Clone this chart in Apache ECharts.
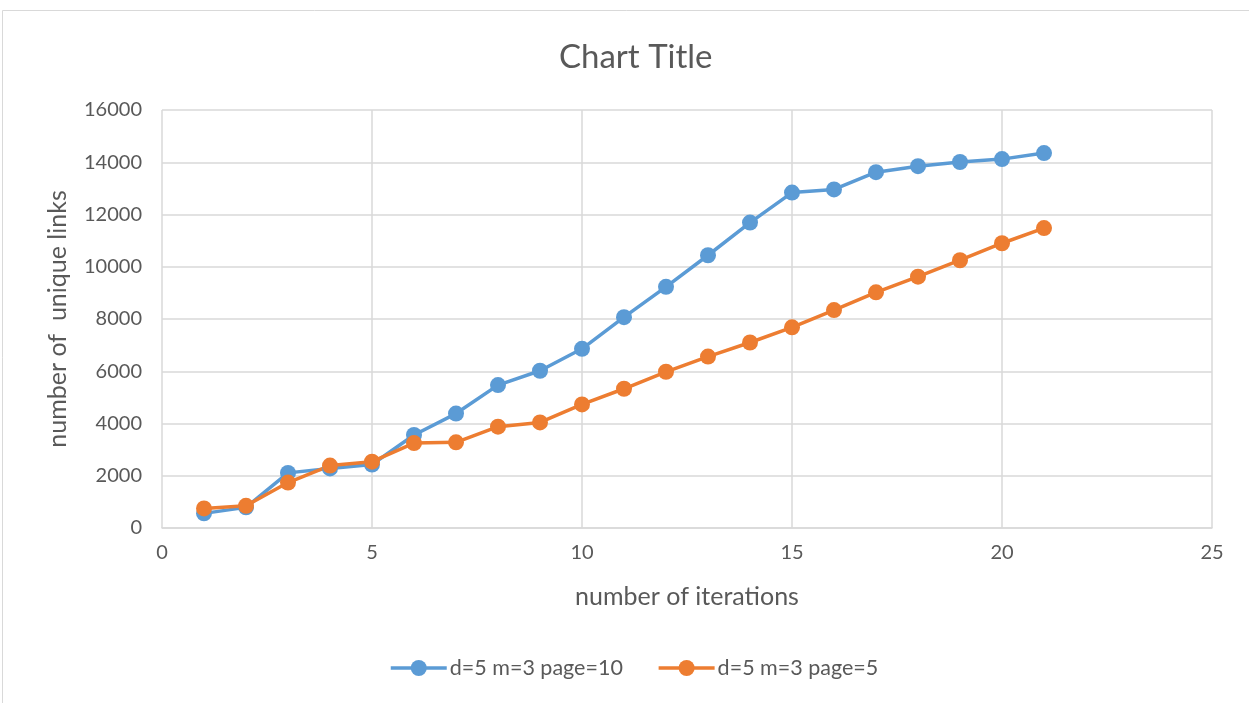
<!DOCTYPE html>
<html>
<head>
<meta charset="utf-8">
<script src="https://cdn.jsdelivr.net/npm/echarts@6/dist/echarts.min.js"></script>
<style>
  html, body { margin: 0; padding: 0; background: #fff; }
  #chart { width: 1249px; height: 703px; }
</style>
</head>
<body>
<div id="chart"></div>
<script>
// Iterations on the x axis
const iterations = [1, 2, 3, 4, 5, 6, 7, 8, 9, 10, 11, 12, 13, 14, 15, 16, 17, 18, 19, 20, 21];
// Unique links found per iteration
const linksPage10 = [560, 790, 2110, 2280, 2430, 3560, 4380, 5470, 6020, 6860, 8070, 9230, 10440, 11690, 12840, 12960, 13620, 13850, 14010, 14120, 14350];
const linksPage5 = [750, 850, 1740, 2390, 2540, 3250, 3280, 3880, 4040, 4730, 5330, 5980, 6560, 7100, 7680, 8340, 9020, 9620, 10250, 10900, 11480];
const seriesNames = ['d=5 m=3 page=10', 'd=5 m=3 page=5'];

const FONT = 'Lato, "Open Sans", sans-serif';
const TEXT = '#595959';
const GRID = '#d9d9d9';

const pairs = (ys) => iterations.map((x, i) => [x, ys[i]]);

const chart = echarts.init(document.getElementById('chart'));
chart.setOption({
  animation: false,
  backgroundColor: '#fff',
  textStyle: { fontFamily: FONT },
  graphic: [{
    type: 'rect',
    shape: { x: 2.5, y: 10.5, width: 1300, height: 800 },
    style: { fill: 'none', stroke: GRID, lineWidth: 1 },
    silent: true
  }],
  title: {
    text: 'Chart Title',
    left: 554,
    top: 36,
    textStyle: { color: TEXT, fontSize: 33, fontWeight: 'normal', fontFamily: FONT }
  },
  grid: { left: 162, right: 37, top: 110, bottom: 175 },
  legend: {
    bottom: 19,
    left: 384,
    itemWidth: 56,
    itemHeight: 20,
    itemGap: 34,
    lineStyle: { width: 3.5 },
    itemStyle: { borderWidth: 0 },
    textStyle: { color: TEXT, fontSize: 21.5, fontFamily: FONT, padding: [0, 0, 0, -2] },
    data: seriesNames
  },
  xAxis: {
    type: 'value',
    min: 0, max: 25, interval: 5,
    name: 'number of iterations',
    nameLocation: 'middle',
    nameGap: 56,
    nameTextStyle: { color: TEXT, fontSize: 25, fontFamily: FONT },
    axisLine: { show: true, lineStyle: { color: GRID, width: 1.5 } },
    axisTick: { show: false },
    axisLabel: { color: TEXT, fontSize: 20, margin: 15, fontFamily: FONT },
    splitLine: { show: true, lineStyle: { color: GRID, width: 1.5 } }
  },
  yAxis: {
    type: 'value',
    min: 0, max: 16000, interval: 2000,
    name: 'number of  unique links',
    nameLocation: 'middle',
    nameGap: 92,
    nameRotate: 90,
    nameTextStyle: { color: TEXT, fontSize: 25, fontFamily: FONT },
    axisLine: { show: false },
    axisTick: { show: false },
    axisLabel: { color: TEXT, fontSize: 20, margin: 20, fontFamily: FONT, formatter: (v) => String(v) },
    splitLine: { show: true, lineStyle: { color: GRID, width: 1.5 } }
  },
  series: [
    {
      name: seriesNames[0],
      type: 'line',
      data: pairs(linksPage10),
      symbol: 'circle',
      symbolSize: 16,
      color: '#5b9bd5',
      lineStyle: { width: 3.5, color: '#5b9bd5' },
      itemStyle: { color: '#5b9bd5' }
    },
    {
      name: seriesNames[1],
      type: 'line',
      data: pairs(linksPage5),
      symbol: 'circle',
      symbolSize: 16,
      color: '#ed7d31',
      lineStyle: { width: 3.5, color: '#ed7d31' },
      itemStyle: { color: '#ed7d31' }
    }
  ]
});
</script>
</body>
</html>
